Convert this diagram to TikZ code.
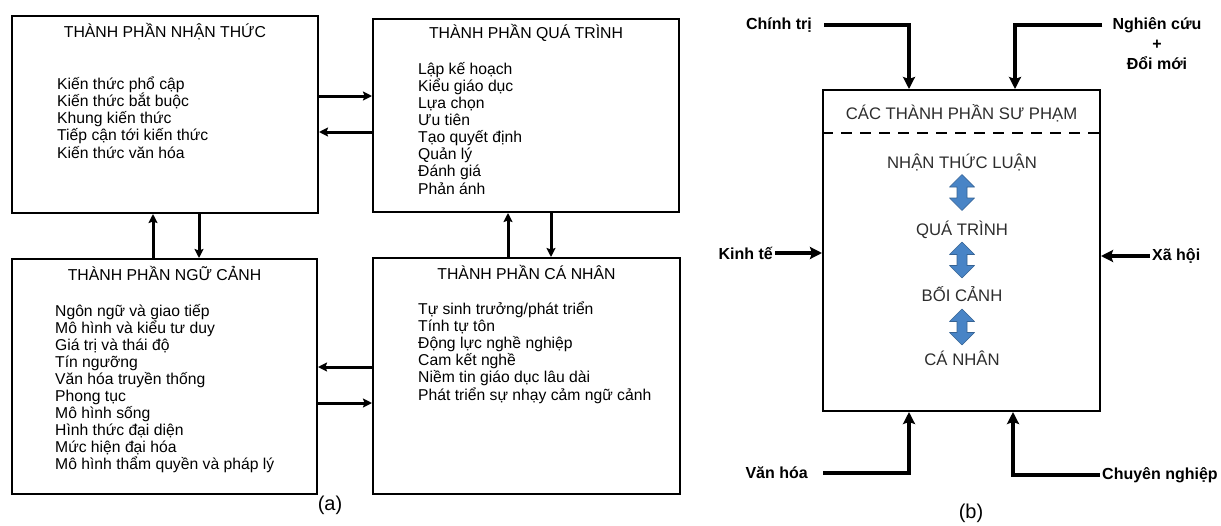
\documentclass[tikz,border=0pt]{standalone}
\usepackage{fontspec}
\setmainfont{Liberation Sans}
\usetikzlibrary{arrows.meta}
\definecolor{arrblue}{RGB}{72,132,198}
\definecolor{softink}{RGB}{45,45,45}

\begin{document}
\begin{tikzpicture}[x=1pt,y=-1pt,
  box/.style={draw, line width=2pt, inner sep=0pt},
  ttl/.style={font=\fontsize{15.8}{18}\selectfont, anchor=base, inner sep=0pt},
  item/.style={font=\fontsize{15.7}{18}\selectfont, anchor=base west, inner sep=0pt},
  link/.style={line width=3pt, -{Stealth[length=9pt,width=9pt,inset=1.5pt]}},
  midtext/.style={font=\fontsize{16.7}{19}\selectfont, text=softink, anchor=base, inner sep=0pt},
  blab/.style={font=\fontsize{16}{18}\selectfont\bfseries, inner sep=0pt},
  barr/.style={line width=4pt, -{Stealth[length=12pt,width=12pt,inset=2pt]}},
  dblarrow/.pic={
    \filldraw[fill=arrblue, draw=arrblue!75!black, line width=0.6pt, line join=round]
      (0,-18) -- (12.5,-5.5) -- (5,-5.5) -- (5,5.5) -- (12.5,5.5) -- (0,18)
      -- (-12.5,5.5) -- (-5,5.5) -- (-5,-5.5) -- (-12.5,-5.5) -- cycle;},
  subcap/.style={font=\fontsize{20}{24}\selectfont, inner sep=0pt}]

\useasboundingbox (0,0) rectangle (1221,525);

% ---------- (a): four components ----------
\node[box, minimum width=306pt, minimum height=197pt] (nt) at (165,114.5) {};
\node[box, minimum width=306pt, minimum height=193pt] (qt) at (526,115.5) {};
\node[box, minimum width=305pt, minimum height=235pt] (nc) at (164.5,376.5) {};
\node[box, minimum width=307pt, minimum height=236pt] (cn) at (526.5,376) {};

\node[ttl] (nt-t) at (165,37.5) {THÀNH PHẦN NHẬN THỨC};
\node[ttl] (qt-t) at (526,38.5) {THÀNH PHẦN QUÁ TRÌNH};
\node[ttl] (nc-t) at (164.5,280.5) {THÀNH PHẦN NGỮ CẢNH};
\node[ttl] (cn-t) at (526.5,279.5) {THÀNH PHẦN CÁ NHÂN};

\foreach \t [count=\i] in {Kiến thức phổ cập, Kiến thức bắt buộc, Khung kiến thức,
    Tiếp cận tới kiến thức, Kiến thức văn hóa}
  \node[item] (nt-\i) at (57,{89+17.3*(\i-1)}) {\t};

\foreach \t [count=\i] in {Lập kế hoạch, Kiểu giáo dục, Lựa chọn, Ưu tiên,
    Tạo quyết định, Quản lý, Đánh giá, Phản ánh}
  \node[item] (qt-\i) at (418,{74+17.15*(\i-1)}) {\t};

\foreach \t [count=\i] in {Ngôn ngữ và giao tiếp, Mô hình và kiểu tư duy,
    Giá trị và thái độ, Tín ngưỡng, Văn hóa truyền thống, Phong tục, Mô hình sống,
    Hình thức đại diện, Mức hiện đại hóa, Mô hình thẩm quyền và pháp lý}
  \node[item] (nc-\i) at (55,{316+17.1*(\i-1)}) {\t};

\foreach \t [count=\i] in {Tự sinh trưởng/phát triển, Tính tự tôn,
    Động lực nghề nghiệp, Cam kết nghề, Niềm tin giáo dục lâu dài,
    Phát triển sự nhạy cảm ngữ cảnh}
  \node[item] (cn-\i) at (418,{314+17.2*(\i-1)}) {\t};

\draw[link] (nt.east |- 0,96) -- (qt.west |- 0,96);
\draw[link] (qt.west |- 0,132) -- (nt.east |- 0,132);
\draw[link] (nc.north -| 153,0) -- (nt.south -| 153,0);
\draw[link] (nt.south -| 199,0) -- (nc.north -| 199,0);
\draw[link] (cn.north -| 508,0) -- (qt.south -| 508,0);
\draw[link] (qt.south -| 551,0) -- (cn.north -| 551,0);
\draw[link] (cn.west |- 0,367) -- (nc.east |- 0,367);
\draw[link] (nc.east |- 0,403) -- (cn.west |- 0,403);

\node[subcap] (capa) at (330,505) {(a)};

% ---------- (b): pedagogical components and influences ----------
\node[box, minimum width=277pt, minimum height=321pt] (sp) at (961.5,250.5) {};
\draw[line width=2pt, dash pattern=on 11pt off 8pt] (sp.west |- 0,133) -- (sp.east |- 0,133);

\node[midtext] (sp-t) at (961.5,119) {CÁC THÀNH PHẦN SƯ PHẠM};
\node[midtext] (l1) at (962,168) {NHẬN THỨC LUẬN};
\node[midtext] (l2) at (962,235) {QUÁ TRÌNH};
\node[midtext] (l3) at (962,301) {BỐI CẢNH};
\node[midtext] (l4) at (962,365) {CÁ NHÂN};

\pic (d1) at (962,192.5) {dblarrow};
\pic (d2) at (962,260) {dblarrow};
\pic (d3) at (962,327) {dblarrow};

\node[blab, anchor=east] (cht) at (812,25) {Chính trị};
\node[blab] (ng) at (1157,25) {Nghiên cứu};
\node[blab, align=center, anchor=north] (ngb) at (1157,40) {+\\[2pt]Đổi mới};
\node[blab, anchor=east] (kt) at (773,253) {Kinh tế};
\node[blab, anchor=west] (xh) at (1152,256) {Xã hội};
\node[blab, anchor=east] (vh) at (808,473) {Văn hóa};
\node[blab, anchor=west] (cng) at (1102,475) {Chuyên nghiệp};

\draw[barr] ([xshift=12pt]cht.east) -| (sp.north -| 909,0);
\draw[barr] ([xshift=-10pt]ng.west) -| (sp.north -| 1015,0);
\draw[barr] ([xshift=2pt]kt.east) -- (sp.west |- kt.east);
\draw[barr] ([xshift=-2pt]xh.west) -- (sp.east |- xh.west);
\draw[barr] ([xshift=15pt]vh.east) -| (sp.south -| 909,0);
\draw[barr] ([xshift=-2pt]cng.west) -| (sp.south -| 1013,0);

\node[subcap] (capb) at (971,513) {(b)};
\end{tikzpicture}
\end{document}
